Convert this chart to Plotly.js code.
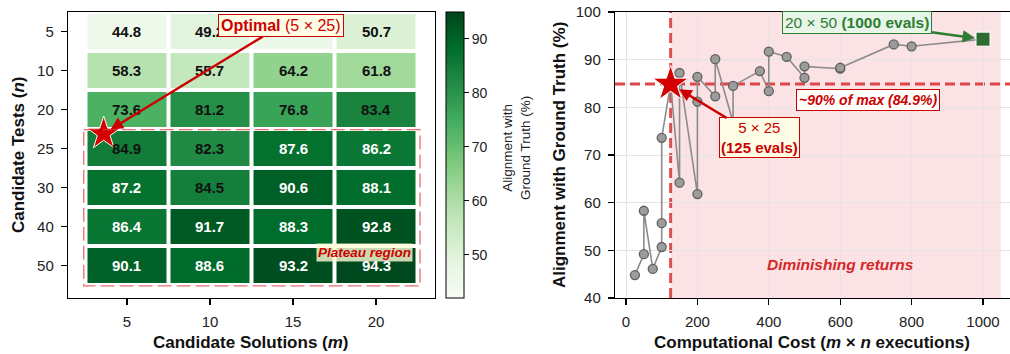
<!DOCTYPE html>
<html><head><meta charset="utf-8">
<script src="https://cdn.plot.ly/plotly-3.0.1.min.js"></script>
<style>html,body{margin:0;padding:0;overflow:hidden;background:#fff}#c{width:1020px;height:354px}</style>
</head><body><div id="c"></div>
<script>
// ---------------- data ----------------
const solutions = [5, 10, 15, 20];            // m (columns)
const tests = [5, 10, 20, 25, 30, 40, 50];     // n (rows)
const alignment = [
  [44.8, 49.2, 46.1, 50.7],
  [58.3, 55.7, 64.2, 61.8],
  [73.6, 81.2, 76.8, 83.4],
  [84.9, 82.3, 87.6, 86.2],
  [87.2, 84.5, 90.6, 88.1],
  [86.4, 91.7, 88.3, 92.8],
  [90.1, 88.6, 93.2, 94.3]
];
const colorbarTicks = [50, 60, 70, 80, 90];
const costTicks = [0, 200, 400, 600, 800, 1000];
const alignTicks = [40, 50, 60, 70, 80, 90, 100];
const optimal = {m: 5, n: 25, value: 84.9};
const best = {m: 20, n: 50, value: 94.3};
const plateauEnd = 1050;
const whiteTextAbove = 85;

// ---------------- layout helpers ----------------
const W = 1020, H = 354;
const px = v => v / W, py = v => 1 - v / H;
const FONT = 'Liberation Sans, Arial, sans-serif';
const RED = '#cc0000';

const greens = [
  [0, '#f7fcf5'], [0.125, '#e5f5e0'], [0.25, '#c7e9c0'], [0.375, '#a1d99b'],
  [0.5, '#74c476'], [0.625, '#41ab5d'], [0.75, '#238b45'], [0.875, '#006d2c'], [1, '#00441b']
];

const xIdx = solutions.map((_, i) => i);
const yIdx = tests.map((_, i) => i);
const optX = solutions.indexOf(optimal.m), optY = tests.indexOf(optimal.n);

// heatmap
const heat = {
  type: 'heatmap', x: xIdx, y: yIdx, z: alignment,
  colorscale: greens, zmin: 42, zmax: 95, xgap: 4, ygap: 4,
  xaxis: 'x', yaxis: 'y', hoverinfo: 'skip',
  colorbar: {
    x: px(446), xanchor: 'left', thickness: 18, thicknessmode: 'pixels',
    y: py(12), yanchor: 'top', len: 286 / H, lenmode: 'fraction',
    outlinewidth: 1, outlinecolor: '#000',
    tickvals: colorbarTicks, ticks: 'outside', ticklen: 5, tickcolor: '#000',
    tickfont: {family: FONT, size: 14, color: '#222'}, xpad: 0, ypad: 0
  }
};
const heatStar = {
  type: 'scatter', mode: 'markers', x: [optX - 0.28], y: [optY - 0.38],
  xaxis: 'x', yaxis: 'y', hoverinfo: 'skip',
  marker: {symbol: 'star', size: 25, color: '#d40000', line: {color: '#fff', width: 1}}
};

// scatter: cost vs alignment, rows outer, columns inner, stable sort by cost
let pts = [];
tests.forEach((n, i) => solutions.forEach((m, j) => pts.push({cost: m * n, v: alignment[i][j]})));
pts.sort((a, b) => a.cost - b.cost);
const line = {
  type: 'scatter', mode: 'lines+markers', x: pts.map(p => p.cost), y: pts.map(p => p.v),
  xaxis: 'x2', yaxis: 'y2', hoverinfo: 'skip',
  line: {color: '#8c8c8c', width: 1.6},
  marker: {symbol: 'circle', size: 9, color: '#9c9c9c', line: {color: '#606060', width: 1.3}}
};
const starPt = {
  type: 'scatter', mode: 'markers', x: [optimal.m * optimal.n], y: [optimal.value],
  xaxis: 'x2', yaxis: 'y2', hoverinfo: 'skip',
  marker: {symbol: 'star', size: 27, color: '#d40000', line: {color: '#fff', width: 1}}
};
const bestPt = {
  type: 'scatter', mode: 'markers', x: [best.m * best.n], y: [best.value],
  xaxis: 'x2', yaxis: 'y2', hoverinfo: 'skip',
  marker: {symbol: 'square', size: 14, color: '#2e6b30', line: {color: '#fff', width: 1}}
};

// cell labels
const ann = [];
tests.forEach((n, i) => solutions.forEach((m, j) => {
  const v = alignment[i][j];
  ann.push({x: j, y: i, xref: 'x', yref: 'y', text: '<b>' + v.toFixed(1) + '</b>', showarrow: false,
    xanchor: 'center', yanchor: 'middle',
    font: {family: FONT, size: 15, color: v > whiteTextAbove ? '#ffffff' : '#111111'}});
}));
const T = (x, y, text, size, extra) => Object.assign({x: px(x), y: py(y), xref: 'paper', yref: 'paper', text: text,
  showarrow: false, xanchor: 'center', yanchor: 'middle', font: {family: FONT, size: size, color: '#111'}}, extra || {});
ann.push(
  {x: optX - 0.28, y: optY - 0.38, xref: 'x', yref: 'y', ax: 177, ay: -108, axref: 'pixel', ayref: 'pixel',
   text: '<b>Optimal</b> (5 × 25)', showarrow: true, arrowhead: 2, arrowsize: 1, arrowwidth: 2.5, arrowcolor: RED,
   standoff: 8, font: {family: FONT, size: 16, color: RED}, bgcolor: '#fffde6', bordercolor: RED, borderwidth: 1, borderpad: 2},
  {x: 2.86, y: 5.66, xref: 'x', yref: 'y', text: '<b><i>Plateau region</i></b>', showarrow: false,
   xanchor: 'center', yanchor: 'middle',
   font: {family: FONT, size: 13.5, color: RED}, bgcolor: 'rgba(255,253,215,0.8)', borderpad: 1},
  // colorbar title
  T(517, 148, 'Alignment with<br>Ground Truth (%)', 13.5, {textangle: -90, font: {family: FONT, size: 13.5, color: '#222'}}),
  // axis titles
  T(18, 155, '<b>Candidate Tests (<i>n</i>)</b>', 17, {textangle: -90}),
  T(251, 342, '<b>Candidate Solutions (<i>m</i>)</b>', 17),
  T(559, 155, '<b>Alignment with Ground Truth (%)</b>', 17, {textangle: -90}),
  T(812, 342, '<b>Computational Cost (<i>m</i> × <i>n</i> executions)</b>', 17),
  // right annotations
  {x: best.m * best.n, y: best.value, xref: 'x2', yref: 'y2', ax: -126, ay: -17, axref: 'pixel', ayref: 'pixel',
   text: '20 × 50 <b>(1000 evals)</b>', showarrow: true, arrowhead: 2, arrowsize: 1, arrowwidth: 2.5, arrowcolor: '#2e7d32',
   standoff: 8, font: {family: FONT, size: 15.5, color: '#2e7d32'}, bgcolor: '#e8f5e9', bordercolor: '#2e7d32', borderwidth: 1, borderpad: 2},
  {x: optimal.m * optimal.n, y: optimal.value, xref: 'x2', yref: 'y2', ax: 89, ay: 54, axref: 'pixel', ayref: 'pixel',
   text: '5 × 25<br><b>(125 evals)</b>', showarrow: true, arrowhead: 2, arrowsize: 1, arrowwidth: 2.5, arrowcolor: RED,
   standoff: 10, font: {family: FONT, size: 15, color: RED}, bgcolor: '#fffde6', bordercolor: RED, borderwidth: 1, borderpad: 1},
  {x: 678, y: 81.5, xref: 'x2', yref: 'y2', text: '<b><i>~90% of max (84.9%)</i></b>', showarrow: false,
   xanchor: 'center', yanchor: 'middle',
   font: {family: FONT, size: 14, color: RED}, bgcolor: '#ffffff', bordercolor: RED, borderwidth: 1, borderpad: 2},
  {x: 600, y: 47, xref: 'x2', yref: 'y2', text: '<b><i>Diminishing returns</i></b>', showarrow: false,
   xanchor: 'center', yanchor: 'middle',
   font: {family: FONT, size: 15.5, color: '#d62728'}}
);

const shapes = [
  {type: 'rect', xref: 'x', yref: 'y', x0: -0.52, x1: 3.53, y0: 2.52, y1: 6.53,
   line: {color: 'rgba(225,60,60,0.75)', width: 1.3, dash: '14px,5px'}, fillcolor: 'rgba(0,0,0,0)', layer: 'above'},
  {type: 'rect', xref: 'x2', yref: 'y2', x0: optimal.m * optimal.n, x1: plateauEnd, y0: 40, y1: 100,
   fillcolor: 'rgba(230,57,70,0.14)', line: {width: 0}, layer: 'below'},
  {type: 'line', xref: 'x2', yref: 'y2', x0: optimal.m * optimal.n, x1: optimal.m * optimal.n, y0: 40, y1: 100,
   line: {color: 'rgba(214,39,40,0.8)', width: 3, dash: '10px,5px'}, layer: 'below'},
  {type: 'line', xref: 'paper', yref: 'y2', x0: px(615), x1: px(1015), y0: optimal.value, y1: optimal.value,
   line: {color: 'rgba(214,39,40,0.85)', width: 3, dash: '10px,5px'}, layer: 'below'}
];

const tickFont = {family: FONT, size: 15, color: '#222'};
const axBase = {ticks: 'outside', ticklen: 6, tickcolor: '#000', tickwidth: 1.2, showline: true, linecolor: '#000',
  linewidth: 1.2, mirror: true, zeroline: false, tickfont: tickFont, ticklabelstandoff: 4};
const layout = {
  width: W, height: H, margin: {l: 0, r: 0, t: 0, b: 0}, showlegend: false,
  paper_bgcolor: '#fff', plot_bgcolor: '#fff',
  xaxis: Object.assign({}, axBase, {domain: [px(68), px(435)], range: [-0.71, 3.71], tickvals: xIdx,
    ticktext: solutions.map(String), showgrid: false, anchor: 'y'}),
  yaxis: Object.assign({}, axBase, {domain: [py(298), py(12)], range: [6.84, -0.5], tickvals: yIdx,
    ticktext: tests.map(String), showgrid: false, anchor: 'x'}),
  xaxis2: Object.assign({}, axBase, {domain: [px(615), px(1015)], range: [-30.8, 1089.6], tickvals: costTicks,
    showgrid: true, gridcolor: '#e4e4e4', gridwidth: 1, anchor: 'y2'}),
  yaxis2: Object.assign({}, axBase, {domain: [py(298), py(12)], range: [40, 100], tickvals: alignTicks,
    showgrid: true, gridcolor: '#e4e4e4', gridwidth: 1, anchor: 'x2'}),
  shapes: shapes, annotations: ann
};

Plotly.newPlot('c', [heat, heatStar, line, starPt, bestPt], layout, {displayModeBar: false, staticPlot: true});
</script>
</body></html>
